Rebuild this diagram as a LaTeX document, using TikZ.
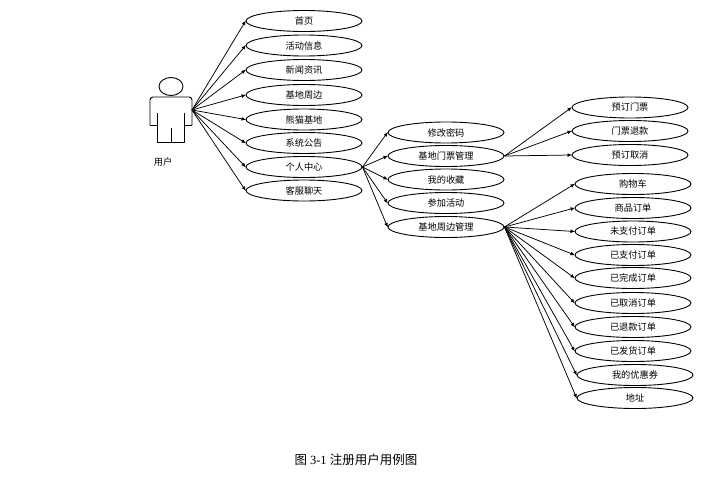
\documentclass[tikz,border=0pt]{standalone}
\usepackage{fontspec}
\setmainfont{Liberation Serif}
\newfontfamily\cjk{Noto Sans CJK SC}
\usetikzlibrary{shapes.geometric,arrows.meta}
\tikzset{
  usecase/.style={draw=black,ellipse,line width=0.9pt,minimum width=116pt,minimum height=21pt,inner sep=0pt,font=\cjk\fontsize{9.2}{10}\selectfont,fill=white},
  link/.style={line width=0.75pt,-{Latex[length=4.5pt,width=3.8pt]},shorten >=-0.5pt},
  actorline/.style={line width=0.9pt,line join=round},
}
\begin{document}
\begin{tikzpicture}[x=1pt,y=-1pt]
\useasboundingbox (0,0) rectangle (707,479);
% actor
\draw[actorline] (171,86.5) ellipse (12 and 9);
\draw[actorline,rounded corners=3pt] (150,125) -- (150,97) -- (192,97) -- (192,125);
\draw[actorline] (150,125) -- (157,125) (192,125) -- (184,125);
\draw[actorline] (157,113) -- (157,142) -- (184,142) -- (184,113);
\draw[actorline] (171,128) -- (171,142);
\coordinate (actor) at (192,110);
\node[font=\cjk\fontsize{9.2}{10}\selectfont] (actorlabel) at (163,162.5) {用户};
% first column
\foreach \n/\y/\t in {a/21/首页,b/45.5/活动信息,c/70/新闻资讯,d/95/基地周边,e/119.5/熊猫基地,f/143/系统公告,g/167/个人中心,h/190.5/客服聊天}{
  \node[usecase] (\n) at (304,\y) {\t};
  \draw[link] (actor) -- (\n.west);
}
% second column
\foreach \n/\y/\t in {ma/132.5/修改密码,mb/156/基地门票管理,mc/179.5/我的收藏,md/203/参加活动,me/227/基地周边管理}{
  \node[usecase] (\n) at (446,\y) {\t};
  \draw[link] (g.east) -- (\n.west);
}
% tickets
\foreach \n/\y/\t in {ra/107.5/预订门票,rb/131/门票退款,rc/155/预订取消}{
  \node[usecase] (\n) at (630,\y) {\t};
  \draw[link] (mb.east) -- (\n.west);
}
% surroundings
\foreach \n/\x/\y/\t in {sa/633/184/购物车,sb/633/208/商品订单,sc/633/231.5/未支付订单,sd/633/255/已支付订单,se/633/278/已完成订单,sf/633/303/已取消订单,sg/633/327/已退款订单,sh/633/351/已发货订单,si/635/375/我的优惠券,sj/635/398/地址}{
  \node[usecase] (\n) at (\x,\y) {\t};
  \draw[link] (me.east) -- (\n.west);
}
\node[font=\fontsize{12.5}{14}\selectfont] (caption) at (356,460) {\cjk 图\ \rmfamily 3-1\ \cjk 注册用户用例图};
\end{tikzpicture}
\end{document}
